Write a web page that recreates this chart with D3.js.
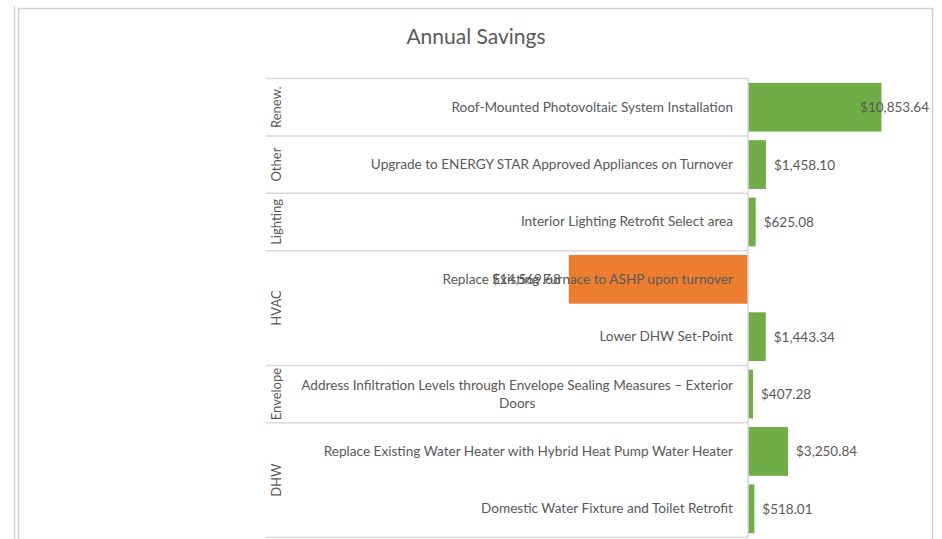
<!DOCTYPE html>
<html>
<head>
<meta charset="utf-8">
<script src="https://cdn.jsdelivr.net/npm/d3@7"></script>
<style>
    body { margin: 0; background: #fff; }
    svg { display: block; font-family: Lato, "Open Sans", sans-serif; }
</style>
</head>
<body>
<svg id="chart" width="942" height="539"></svg>
<script>
// chart data, top to bottom
var groups = ["Renew.", "Other", "Lighting", "HVAC", "HVAC", "Envelope", "DHW", "DHW"];

var measures = [
    "Roof-Mounted Photovoltaic System Installation",
    "Upgrade to ENERGY STAR Approved Appliances on Turnover",
    "Interior Lighting Retrofit Select area",
    "Replace Existing Furnace to ASHP upon turnover",
    "Lower DHW Set-Point",
    "Address Infiltration Levels through Envelope Sealing Measures \u2013 Exterior\nDoors",
    "Replace Existing Water Heater with Hybrid Heat Pump Water Heater",
    "Domestic Water Fixture and Toilet Retrofit"
];

var savings = [10853.64, 1458.10, 625.08, -14569.68, 1443.34, 407.28, 3250.84, 518.01];

var xDomain = [-15000, 15000];

var svg = d3.select("#chart");

var textColor = "#595959";
var lineColor = "#d9d9d9";

// outer frame bits
svg.append("line")
    .attr("x1", 14.5).attr("x2", 14.5).attr("y1", 6).attr("y2", 539)
    .attr("stroke", "#d4d4d4").attr("stroke-width", 1.5);
svg.append("path")
    .attr("d", "M18.5,545V8.5H932.5V545")
    .attr("fill", "none").attr("stroke", "#cfcfcf").attr("stroke-width", 1.5);

svg.append("text")
    .attr("x", 476).attr("y", 44)
    .attr("text-anchor", "middle")
    .attr("fill", textColor)
    .style("font-size", "21px")
    .text("Annual Savings");

var plotTop = 78.5, plotBottom = 537.5;
var labelLeft = 266, plotRight = 929;

var rows = d3.range(measures.length);

var y = d3.scaleBand()
    .domain(rows)
    .range([plotTop, plotBottom])
    .paddingInner(0.15)
    .paddingOuter(0.075);

var x = d3.scaleLinear().domain(xDomain).range([563.5, 932.5]);
var x0 = x(0);
var step = y.step();

// bars
svg.selectAll("rect.bar")
    .data(rows)
    .enter()
    .append("rect")
        .attr("class", "bar")
        .attr("x", function(i){ return Math.min(x(savings[i]), x0); })
        .attr("y", function(i){ return y(i); })
        .attr("width", function(i){ return Math.abs(x(savings[i]) - x0); })
        .attr("height", y.bandwidth())
        .attr("fill", function(i){ return savings[i] < 0 ? "#ED7D31" : "#70AD47"; });

// group spans (consecutive equal names)
var spans = [];
groups.forEach(function(g, i){
    var last = spans[spans.length - 1];
    if(last && last.name == g){
        last.end = i;
    } else {
        spans.push({name: g, start: i, end: i});
    }
});

// separators of the category box
var bounds = [0].concat(spans.map(function(s){ return s.end + 1; }));
svg.selectAll("line.sep")
    .data(bounds)
    .enter()
    .append("line")
        .attr("class", "sep")
        .attr("x1", labelLeft).attr("x2", x0)
        .attr("y1", function(b){ return plotTop + b * step; })
        .attr("y2", function(b){ return plotTop + b * step; })
        .attr("stroke", lineColor).attr("stroke-width", 1.5);

// axis line
svg.append("line")
    .attr("x1", x0).attr("x2", x0).attr("y1", plotTop).attr("y2", plotBottom)
    .attr("stroke", lineColor).attr("stroke-width", 1.5);

// group labels
svg.selectAll("text.group")
    .data(spans)
    .enter()
    .append("text")
        .attr("class", "group")
        .attr("transform", function(s){
            var cy = plotTop + (s.start + s.end + 1) / 2 * step;
            return "translate(281," + cy + ") rotate(-90)";
        })
        .attr("text-anchor", "middle")
        .attr("fill", textColor)
        .style("font-size", "13px")
        .text(function(s){ return s.name; });

// measure labels, right aligned at the axis, wrapped lines centered together
var labelEnd = x0 - 15;
rows.forEach(function(i){
    var lines = measures[i].split("\n");
    var cy = y(i) + y.bandwidth() / 2;
    var t = svg.append("text")
        .attr("fill", textColor)
        .style("font-size", "13.6px")
        .attr("text-anchor", "middle");
    lines.forEach(function(l){
        t.append("tspan").text(l);
    });
    var widths = [];
    t.selectAll("tspan").each(function(){ widths.push(this.getComputedTextLength()); });
    var maxW = d3.max(widths);
    var lh = 18;
    t.selectAll("tspan")
        .attr("x", labelEnd - maxW / 2)
        .attr("y", function(d, k){ return cy + 4.5 + (k - (lines.length - 1) / 2) * lh; });
});

// value labels
var fmt = d3.format(",.2f");
rows.forEach(function(i){
    var v = savings[i];
    var cy = y(i) + y.bandwidth() / 2;
    var t = svg.append("text")
        .attr("fill", textColor)
        .style("font-size", "13.5px")
        .attr("y", cy + 5)
        .text("$" + fmt(Math.abs(v)));
    var w = t.node().getComputedTextLength();
    var lx;
    if(v < 0){
        lx = x(v) - 8 - w;
    } else {
        lx = Math.min(x(v) + 8, plotRight - w);
    }
    t.attr("x", lx);
});
</script>
</body>
</html>
